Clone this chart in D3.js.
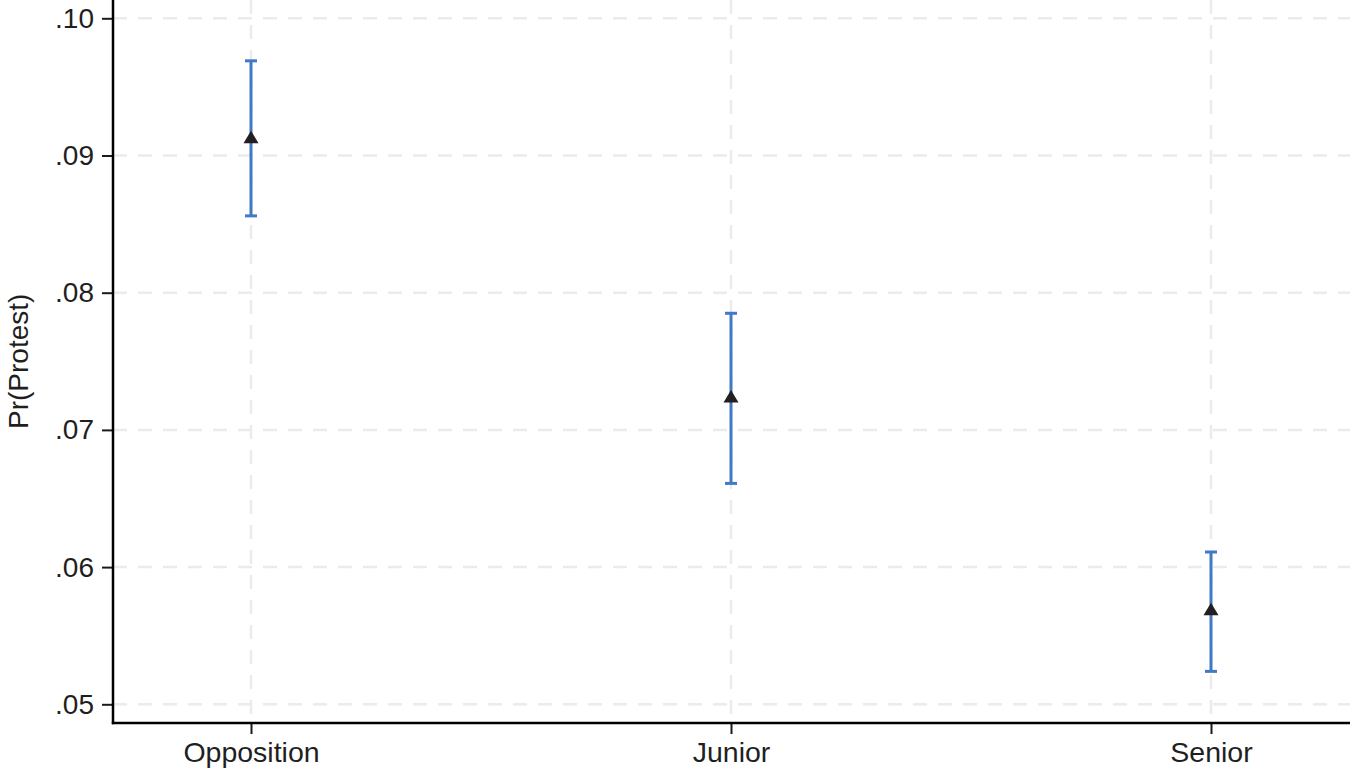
<!DOCTYPE html>
<html>
<head>
<meta charset="utf-8">
<script src="https://cdn.jsdelivr.net/npm/d3@7"></script>
<style>
  body { margin: 0; background: #fff; }
  text { font-family: "Liberation Sans", Arial, Helvetica, sans-serif; fill: #1f1f1f; }
</style>
</head>
<body>
<div id="main"></div>
<script>
// chart data
const categories = ['Opposition', 'Junior', 'Senior'];
const estimates = [0.0913, 0.0724, 0.0569];
const ciLower = [0.0856, 0.0661, 0.0524];
const ciUpper = [0.0969, 0.0785, 0.0611];
const yTicks = [0.05, 0.06, 0.07, 0.08, 0.09, 0.10];
const yTitle = 'Pr(Protest)';

const width = 1350, height = 770;
const margin = { left: 113, right: 1, top: 0, bottom: 47 };
const axisY = height - margin.bottom; // bottom axis line

const svg = d3.select('#main')
    .append('svg')
    .attr('width', width)
    .attr('height', height);

const xScale = d3.scalePoint()
    .domain(categories)
    .range([margin.left, width - margin.right])
    .padding(0.2875);

const yScale = d3.scaleLinear()
    .domain([0.05, 0.10])
    .range([704.3, 18.3]);

const gridColor = '#ebebeb';

// horizontal gridlines
svg.append('g')
    .selectAll('line')
    .data(yTicks)
    .join('line')
    .attr('x1', margin.left)
    .attr('x2', width)
    .attr('y1', d => yScale(d))
    .attr('y2', d => yScale(d))
    .attr('stroke', gridColor)
    .attr('stroke-width', 2.5)
    .attr('stroke-dasharray', '14,11');

// vertical gridlines
svg.append('g')
    .selectAll('line')
    .data(categories)
    .join('line')
    .attr('x1', d => xScale(d))
    .attr('x2', d => xScale(d))
    .attr('y1', 0)
    .attr('y2', axisY)
    .attr('stroke', gridColor)
    .attr('stroke-width', 2.5)
    .attr('stroke-dasharray', '14,11');

// y axis
const yAxis = svg.append('g')
    .attr('transform', `translate(${margin.left},0)`)
    .call(d3.axisLeft(yScale)
        .tickValues(yTicks)
        .tickSize(11)
        .tickPadding(8)
        .tickFormat(d => d3.format('.2f')(d).replace(/^0/, '')));
yAxis.select('.domain').remove();
yAxis.selectAll('.tick line').attr('stroke', '#1a1a1a').attr('stroke-width', 2);
yAxis.selectAll('.tick text').attr('font-size', 28).attr('fill', '#1f1f1f')
    .attr('font-family', '"Liberation Sans", Arial, sans-serif');

// x axis
const xAxis = svg.append('g')
    .attr('transform', `translate(0,${axisY})`)
    .call(d3.axisBottom(xScale)
        .tickSize(11)
        .tickPadding(8));
xAxis.select('.domain').remove();
xAxis.selectAll('.tick line').attr('stroke', '#1a1a1a').attr('stroke-width', 2);
xAxis.selectAll('.tick text').attr('font-size', 28.5).attr('fill', '#1f1f1f')
    .attr('font-family', '"Liberation Sans", Arial, sans-serif');

// axis lines
svg.append('line')
    .attr('x1', margin.left).attr('x2', margin.left)
    .attr('y1', 0).attr('y2', axisY + 1.2)
    .attr('stroke', '#000').attr('stroke-width', 2.5);
svg.append('line')
    .attr('x1', margin.left - 1.2).attr('x2', width)
    .attr('y1', axisY).attr('y2', axisY)
    .attr('stroke', '#000').attr('stroke-width', 2.5);

// y title
svg.append('text')
    .attr('transform', `translate(28,${yScale(0.075)}) rotate(-90)`)
    .attr('text-anchor', 'middle')
    .attr('font-size', 28)
    .text(yTitle);

// error bars
const blue = '#4179c5';
const bars = svg.append('g');
categories.forEach((c, i) => {
    const x = xScale(c);
    bars.append('line')
        .attr('x1', x).attr('x2', x)
        .attr('y1', yScale(ciLower[i])).attr('y2', yScale(ciUpper[i]))
        .attr('stroke', blue).attr('stroke-width', 3);
    [ciLower[i], ciUpper[i]].forEach(v => {
        bars.append('line')
            .attr('x1', x - 6).attr('x2', x + 6)
            .attr('y1', yScale(v)).attr('y2', yScale(v))
            .attr('stroke', blue).attr('stroke-width', 3);
    });
});

// point estimates (triangles)
svg.append('g')
    .selectAll('path')
    .data(estimates)
    .join('path')
    .attr('transform', (d, i) => `translate(${xScale(categories[i])},${yScale(d)})`)
    .attr('d', 'M0,-7 L7.5,5.5 L-7.5,5.5 Z')
    .attr('fill', '#231f20');
</script>
</body>
</html>
